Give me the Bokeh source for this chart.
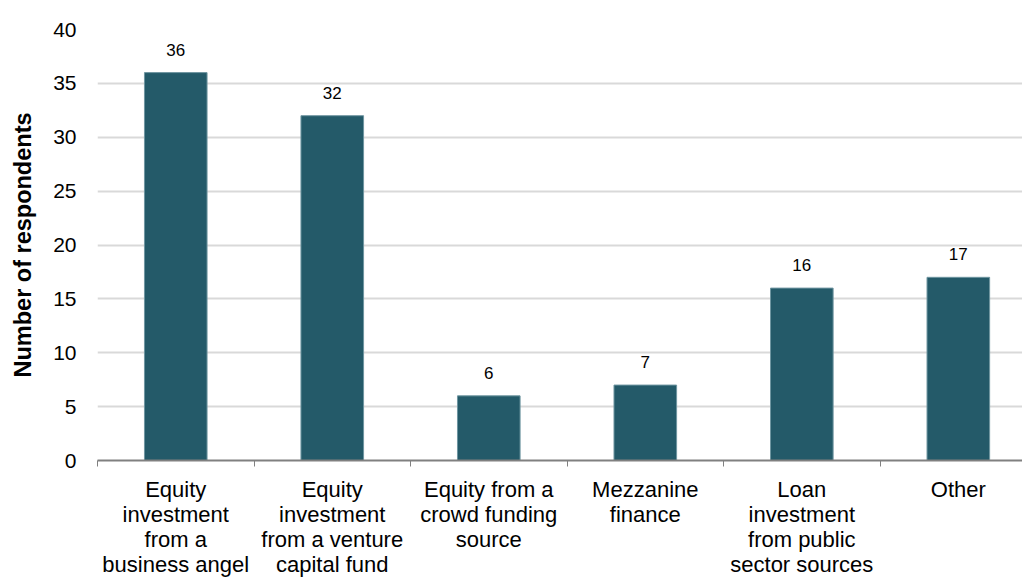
from bokeh.plotting import figure
from bokeh.models import Range1d, FixedTicker, ColumnDataSource, LabelSet
from bokeh.core.properties import value
from bokeh.embed import file_html
from bokeh.resources import INLINE

categories = [
    "Equity\ninvestment\nfrom a\nbusiness angel",
    "Equity\ninvestment\nfrom a venture\ncapital fund",
    "Equity from a\ncrowd funding\nsource",
    "Mezzanine\nfinance",
    "Loan\ninvestment\nfrom public\nsector sources",
    "Other",
]
values = [36, 32, 6, 7, 16, 17]
y_ticks = [0, 5, 10, 15, 20, 25, 30, 35, 40]

FONT = "Liberation Sans"
BAR = "#245a69"

xs = [i + 0.5 for i in range(len(categories))]
src = ColumnDataSource(dict(x=xs, top=values, lab=[str(v) for v in values]))

p = figure(width=1022, height=579, output_backend="svg", toolbar_location=None,
           x_range=Range1d(0, 5.91), y_range=Range1d(0, 40))
p.min_border_left = 97
p.min_border_right = 0
p.min_border_top = 29
p.min_border_bottom = 117
p.outline_line_color = None
p.background_fill_color = "white"
p.border_fill_color = "white"

p.vbar(x="x", top="top", width=0.4, bottom=0, source=src, fill_color=BAR,
       line_color="#6f96a1", line_width=1)

labels = LabelSet(x="x", y="top", text="lab", source=src, text_align="center",
                  text_baseline="bottom", y_offset=17, text_font=value(FONT),
                  text_font_size=value("17px"), text_color=value("#000000"))
p.add_layout(labels)

# x axis
p.xaxis.ticker = FixedTicker(ticks=xs, minor_ticks=list(range(len(categories) + 1)))
p.xaxis.major_label_overrides = {x: c for x, c in zip(xs, categories)}
p.xaxis.major_tick_out = 0
p.xaxis.major_tick_in = 0
p.xaxis.minor_tick_out = 6
p.xaxis.minor_tick_in = 0
p.xaxis.minor_tick_line_color = "#808080"
p.xaxis.minor_tick_line_width = 1
p.xaxis.axis_line_color = "#808080"
p.xaxis.axis_line_width = 2
p.xaxis.major_label_text_font = FONT
p.xaxis.major_label_text_font_size = "22px"
p.xaxis.major_label_text_line_height = 1.0
p.xaxis.major_label_text_color = "#000000"
p.xaxis.major_label_standoff = 10
p.xgrid.grid_line_color = None

# y axis
p.yaxis.ticker = FixedTicker(ticks=y_ticks)
p.yaxis.axis_line_color = None
p.yaxis.major_tick_line_color = None
p.yaxis.minor_tick_line_color = None
p.yaxis.major_tick_out = 0
p.yaxis.major_tick_in = 0
p.yaxis.major_label_text_font = FONT
p.yaxis.major_label_text_font_size = "21px"
p.yaxis.major_label_text_color = "#000000"
p.yaxis.major_label_standoff = 21
p.yaxis.axis_label = "Number of respondents"
p.yaxis.axis_label_text_font = FONT
p.yaxis.axis_label_text_font_size = "23.5px"
p.yaxis.axis_label_text_font_style = "bold"
p.yaxis.axis_label_text_color = "#000000"
p.yaxis.axis_label_standoff = 14
p.ygrid.grid_line_color = "#d9d9d9"
p.ygrid.grid_line_width = 2

open("out.html", "w").write(file_html(p, INLINE))
